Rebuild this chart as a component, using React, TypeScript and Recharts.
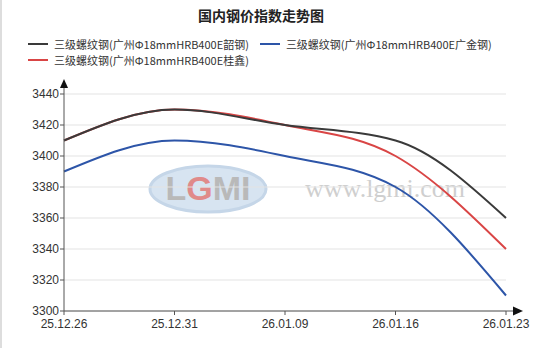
import { LineChart, Line, XAxis, YAxis, CartesianGrid, Legend } from 'recharts'

const dates = ['25.12.26', '25.12.31', '26.01.09', '26.01.16', '26.01.23']
const shaoGang = [3410, 3430, 3420, 3410, 3360]
const guiXin = [3410, 3430, 3420, 3400, 3340]
const guangJin = [3390, 3410, 3400, 3380, 3310]
const yTicks = [3300, 3320, 3340, 3360, 3380, 3400, 3420, 3440]

const seriesInfo = [
  { key: 'shaoGang', name: '三级螺纹钢(广州Φ18mmHRB400E韶钢)', color: '#3a3a3a' },
  { key: 'guiXin', name: '三级螺纹钢(广州Φ18mmHRB400E桂鑫)', color: '#d94545' },
  { key: 'guangJin', name: '三级螺纹钢(广州Φ18mmHRB400E广金钢)', color: '#2d55a8' },
]

const data = dates.map((d, i) => ({
  date: d,
  shaoGang: shaoGang[i],
  guiXin: guiXin[i],
  guangJin: guangJin[i],
}))

const cjk = '"Noto Sans CJK SC", "Liberation Sans", sans-serif'
const tickStyle = { fill: '#333', fontSize: 12, fontFamily: '"Liberation Sans", Arial, sans-serif' }

function LegendBox() {
  // two columns: black + red on the left, blue on the right
  const item = (s: (typeof seriesInfo)[number]) => (
    <div key={s.key} style={{ display: 'flex', alignItems: 'center', height: 16 }}>
      <div style={{ width: 20, height: 2, background: s.color, marginRight: 6 }} />
      <div style={{ fontSize: 11, height: 16, lineHeight: '16px', color: '#333', fontFamily: cjk, whiteSpace: 'nowrap' }}>{s.name}</div>
    </div>
  )
  return (
    <div style={{ position: 'absolute', left: 28, top: 36, display: 'flex', gap: 11 }}>
      <div>
        {item(seriesInfo[0])}
        {item(seriesInfo[1])}
      </div>
      <div>{item(seriesInfo[2])}</div>
    </div>
  )
}

export default function App() {
  return (
    <div style={{ position: 'absolute', left: 0, top: 0, width: 554, height: 348, background: '#fff', overflow: 'hidden' }}>
      <div style={{ position: 'absolute', left: 0, top: 0, width: 2, height: 348, background: '#ddd' }} />
      <div
        style={{
          position: 'absolute',
          left: 0,
          top: 5,
          width: 522,
          textAlign: 'center',
          fontFamily: cjk,
          fontWeight: 'bold',
          fontSize: 14,
          color: '#222',
        }}
      >
        国内钢价指数走势图
      </div>

      {/* watermark */}
      <svg width={554} height={348} style={{ position: 'absolute', left: 0, top: 0 }}>
        <ellipse cx={208} cy={189} rx={58} ry={23} fill="#d7e4f1" stroke="#c5d6e8" strokeWidth={3} />
        <text x={208} y={200} textAnchor="middle" fontSize={34} fontWeight="bold" fontFamily='"Liberation Sans", Arial' fill="#b9b9b9">
          L<tspan fill="#e08a8a">G</tspan>MI
        </text>
        <text x={305} y={197} fontSize={26} fontFamily='"Liberation Serif", serif' fill="#cfcfcf">
          www.lgmi.com
        </text>
      </svg>

      <LineChart
        width={554}
        height={348}
        data={data}
        margin={{ top: 94, right: 48, bottom: 0, left: 0 }}
        style={{ position: 'absolute', left: 0, top: 0 }}
      >
        <CartesianGrid vertical={false} stroke="#e3e3e3" strokeWidth={1} />
        <XAxis
          dataKey="date"
          height={37}
          tick={tickStyle}
          tickSize={4}
          tickMargin={4}
          stroke="#555"
          interval={0}
          padding={{ left: 0, right: 0 }}
        />
        <YAxis
          domain={[3300, 3440]}
          ticks={yTicks}
          width={64}
          tick={tickStyle}
          tickSize={4}
          tickMargin={1}
          stroke="#555"
          interval={0}
        />
        <Legend content={() => null} />
        <Line type="monotone" dataKey="guangJin" name={seriesInfo[2].name} stroke={seriesInfo[2].color} strokeWidth={2} dot={false} isAnimationActive={false} />
        <Line type="monotone" dataKey="guiXin" name={seriesInfo[1].name} stroke={seriesInfo[1].color} strokeWidth={2} dot={false} isAnimationActive={false} />
        <Line type="monotone" dataKey="shaoGang" name={seriesInfo[0].name} stroke={seriesInfo[0].color} strokeWidth={2} dot={false} isAnimationActive={false} />
      </LineChart>

      {/* axis arrows */}
      <svg width={554} height={348} style={{ position: 'absolute', left: 0, top: 0, pointerEvents: 'none' }}>
        <line x1={64} y1={94} x2={64} y2={86} stroke="#555" strokeWidth={1} />
        <polygon points="64,79 60,88 68,88" fill="#111" />
        <line x1={506} y1={311} x2={514} y2={311} stroke="#555" strokeWidth={1} />
        <polygon points="523,311 513,306.5 513,315.5" fill="#111" />
      </svg>

      <LegendBox />
    </div>
  )
}
